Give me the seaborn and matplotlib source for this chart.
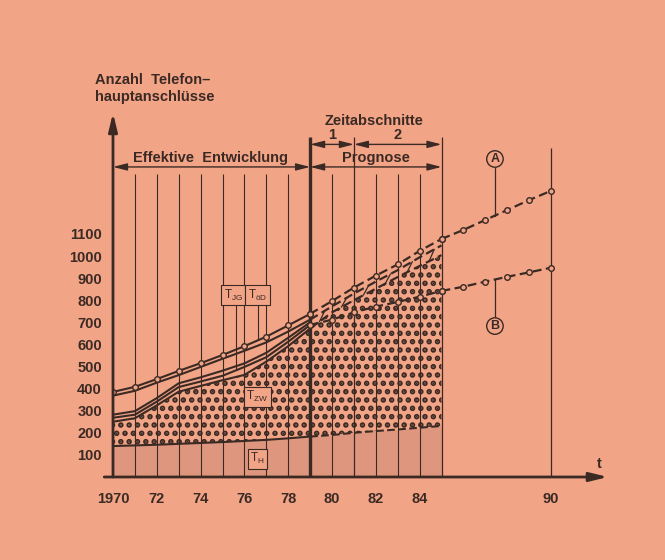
import numpy as np
import matplotlib.pyplot as plt
import seaborn as sns

# --- data ---
years_hist = [1970, 1971, 1972, 1973, 1974, 1975, 1976, 1977, 1978, 1979]
top1_hist = [385, 408, 443, 480, 515, 552, 592, 635, 686, 738]
top2_hist = [368, 390, 427, 461, 498, 535, 571, 609, 658, 712]
low1_hist = [282, 298, 357, 424, 451, 481, 514, 562, 630, 700]
low2_hist = [268, 282, 341, 407, 432, 458, 498, 542, 612, 688]
low3_hist = [250, 266, 324, 386, 412, 438, 462, 522, 592, 672]

years_prog = [1979, 1980, 1981, 1982, 1983, 1984, 1985]
a_prog = [738, 796, 857, 911, 962, 1023, 1077]
a2_prog = [712, 772, 830, 884, 936, 994, 1048]
a3_prog = [672, 745, 800, 852, 905, 955, 1004]
b_prog = [688, 712, 745, 771, 792, 816, 842]

years_ext = [1985, 1986, 1987, 1988, 1989, 1990]
a_ext = [1077, 1118, 1163, 1208, 1253, 1295]
b_ext = [842, 861, 884, 906, 926, 947]

years_h = list(range(1970, 1986))
th_vals = [140, 143, 146, 150, 154, 158, 163, 168, 175, 183, 190, 200, 208, 215, 223, 231]

y_ticks = [100, 200, 300, 400, 500, 600, 700, 800, 900, 1000, 1100]
x_ticks = list(range(1970, 1986)) + [1990]
x_labels = ['1970', '', '72', '', '74', '', '76', '', '78', '', '80', '', '82', '', '84', '', '90']

bg = '#f2a487'
ink = '#3b2a24'

sns.set_theme(style='white')
plt.rcParams['font.family'] = ['Liberation Sans', 'DejaVu Sans']
plt.rcParams['mathtext.default'] = 'regular'
plt.rcParams['hatch.color'] = ink
plt.rcParams['hatch.linewidth'] = 2.7

fig = plt.figure(figsize=(6.65, 5.6), dpi=100, facecolor=bg)
ax = fig.add_axes([113 / 665, 83 / 560, 23 * 21.9 / 665, 1700 * 0.221 / 560])
ax.set_facecolor('none')
ax.set_xlim(1970, 1993)
ax.set_ylim(0, 1700)
for s in ax.spines.values():
    s.set_visible(False)

# areas
ax.fill_between(years_h, 0, th_vals, color='#df967e', lw=0, zorder=1)
zw_x = years_hist + years_prog[1:]
zw_top = low3_hist + a3_prog[1:]
ax.fill_between(zw_x, th_vals, zw_top, facecolor='none', edgecolor=ink,
                hatch='..', lw=0, zorder=1)

# vertical year lines
short = [1971, 1972, 1973, 1974, 1975, 1976, 1977, 1978, 1980, 1982, 1983, 1984]
ax.vlines(short, 0, 1372, colors=ink, lw=0.8, zorder=2)
ax.vlines([1981, 1985], 0, 1540, colors=ink, lw=0.9, zorder=2)
ax.vlines([1990], 0, 1490, colors=ink, lw=0.9, zorder=2)
ax.vlines([1979], 0, 1540, colors=ink, lw=2.4, zorder=2)

mk = dict(marker='o', markersize=4, markerfacecolor=bg, markeredgecolor=ink, markeredgewidth=1)

# historical lines
for vals in [low1_hist, low2_hist, low3_hist, top2_hist]:
    sns.lineplot(x=years_hist, y=vals, ax=ax, color=ink, lw=1.5, zorder=3)
sns.lineplot(x=years_hist, y=top1_hist, ax=ax, color=ink, lw=1.5, zorder=4, **mk)
sns.lineplot(x=years_h[9:], y=th_vals[9:], ax=ax, color=ink, lw=1.5, ls='--', zorder=3)
sns.lineplot(x=years_h[:10], y=th_vals[:10], ax=ax, color=ink, lw=1.5, zorder=3)

# forecast lines
for vals in [a2_prog, a3_prog]:
    sns.lineplot(x=years_prog, y=vals, ax=ax, color=ink, lw=1.6, ls=(0, (4, 2)), zorder=3)
for xs, vals in [(years_prog, a_prog), (years_prog, b_prog), (years_ext, a_ext), (years_ext, b_ext)]:
    sns.lineplot(x=xs, y=vals, ax=ax, color=ink, lw=1.6, ls=(0, (4, 2)), zorder=4, **mk)

# small slash marks between the forecast lines
for y0 in years_prog[:-1]:
    xm = y0 + 0.55
    lo = np.interp(xm - 0.12, years_prog, a3_prog)
    hi = np.interp(xm + 0.12, years_prog, a2_prog)
    ax.plot([xm - 0.12, xm + 0.12], [lo, hi], color=ink, lw=0.9, zorder=3)

# axes with arrows
ax.annotate('', xy=(1970, 1647), xytext=(1970, 0),
            arrowprops=dict(arrowstyle='-|>,head_length=0.9,head_width=0.22', color=ink, lw=2,
                            shrinkA=0, shrinkB=0), zorder=5)
ax.annotate('', xy=(1992.6, 0), xytext=(1969.6, 0),
            arrowprops=dict(arrowstyle='-|>,head_length=0.9,head_width=0.22', color=ink, lw=2,
                            shrinkA=0, shrinkB=0), zorder=5)

ax.set_yticks(y_ticks)
ax.set_yticklabels([str(v) for v in y_ticks])
ax.set_xticks(x_ticks)
ax.set_xticklabels(x_labels)
ax.tick_params(axis='both', direction='out', length=6, width=1.5, color=ink,
               labelcolor=ink, labelsize=10.5, pad=2)
for lab in ax.get_xticklabels() + ax.get_yticklabels():
    lab.set_fontweight('bold')
ax.tick_params(axis='x', pad=5)

# period arrows and text
arr = dict(arrowstyle='<|-|>,head_length=0.7,head_width=0.18', color=ink, lw=1, shrinkA=0, shrinkB=0)
ax.annotate('', xy=(1970, 1403), xytext=(1979, 1403), arrowprops=arr)
ax.annotate('', xy=(1979, 1403), xytext=(1985, 1403), arrowprops=arr)
ax.annotate('', xy=(1979, 1505), xytext=(1981, 1505), arrowprops=arr)
ax.annotate('', xy=(1981, 1505), xytext=(1985, 1505), arrowprops=arr)
tk = dict(color=ink, fontsize=10.5, fontweight='bold', ha='center', va='center')
ax.text(1974.45, 1445, 'Effektive  Entwicklung', **tk)
ax.text(1982.0, 1445, 'Prognose', **tk)
ax.text(1981.9, 1611, 'Zeitabschnitte', **tk)
ax.text(1980.0, 1548, '1', **tk)
ax.text(1983.0, 1548, '2', **tk)
ax.text(1992.2, 60, 't', **tk)

fig.text(95 / 665, 1 - 80 / 560, 'Anzahl  Telefon–', color=ink, fontsize=10.5,
         fontweight='bold', ha='left', va='center')
fig.text(95 / 665, 1 - 97 / 560, 'hauptanschlüsse', color=ink, fontsize=10.5,
         fontweight='bold', ha='left', va='center')

# curve labels A / B
xa = 1987.44
ax.plot([xa, xa], [1400, np.interp(xa, years_ext, a_ext)], color=ink, lw=0.9, zorder=3)
ax.plot([xa, xa], [722, np.interp(xa, years_ext, b_ext)], color=ink, lw=0.9, zorder=3)
cb = dict(boxstyle='circle,pad=0.18', fc=bg, ec=ink, lw=1)
ax.text(xa, 1439, 'A', color=ink, fontsize=9, fontweight='bold', ha='center', va='center', bbox=cb, zorder=6)
ax.text(xa, 683, 'B', color=ink, fontsize=9, fontweight='bold', ha='center', va='center', bbox=cb, zorder=6)

# component labels
ax.plot([1975.6, 1975.6], [787, 484], color=ink, lw=0.8, zorder=3)
ax.plot([1976.6, 1976.6], [787, 620], color=ink, lw=0.8, zorder=3)
sb = dict(boxstyle='square,pad=0.2', fc=bg, ec=ink, lw=0.8)
ax.text(1975.5, 823, '$T_{JG}$', color=ink, fontsize=8.5, ha='center', va='center', bbox=sb, zorder=6)
ax.text(1976.6, 823, '$T_{öD}$', color=ink, fontsize=8.5, ha='center', va='center', bbox=sb, zorder=6)
ax.text(1976.6, 363, '$T_{ZW}$', color=ink, fontsize=8.5, ha='center', va='center', bbox=sb, zorder=6)
ax.text(1976.6, 82, '$T_{H}$', color=ink, fontsize=8.5, ha='center', va='center', bbox=sb, zorder=6)

fig.savefig('out.png', dpi=100, facecolor=bg)
